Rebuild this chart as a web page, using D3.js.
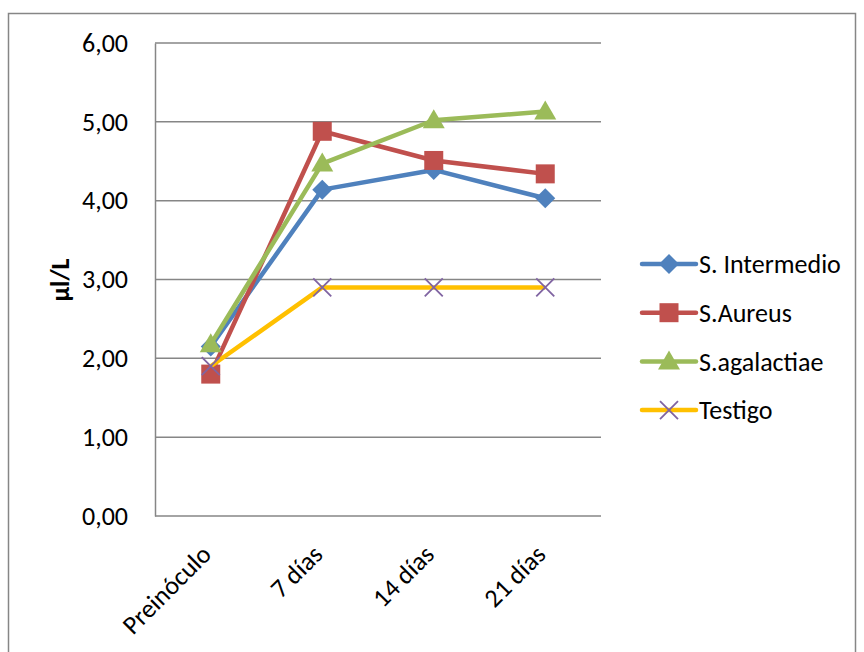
<!DOCTYPE html>
<html>
<head>
<meta charset="utf-8">
<script src="https://cdn.jsdelivr.net/npm/d3@7"></script>
<style>
  body { margin: 0; background: #fff; }
  text { font-family: Carlito, Calibri, "Open Sans", sans-serif; }
</style>
</head>
<body>
<div id="canvas"></div>
<script>
var categories = ['Preinóculo', '7 días', '14 días', '21 días'];
var seriesNames = ['S. Intermedio', 'S.Aureus', 'S.agalactiae', 'Testigo'];
var intermedio = [2.15, 4.14, 4.39, 4.03];
var aureus = [1.80, 4.88, 4.51, 4.34];
var agalactiae = [2.18, 4.47, 5.02, 5.13];
var testigo = [1.90, 2.90, 2.90, 2.90];
var yTicks = [0, 1, 2, 3, 4, 5, 6];

var lineColors = ['#4F81BD', '#C0504D', '#9BBB59', '#FFC000'];
var markers = ['diamond', 'square', 'triangle', 'x'];
var allValues = [intermedio, aureus, agalactiae, testigo];

var width = 864, height = 652;
var plotLeft = 155, plotRight = 601, plotTop = 43, plotBottom = 516;
var fontSize = 26;

var svg = d3.select('#canvas').append('svg')
  .attr('width', width)
  .attr('height', height);

svg.append('rect')
  .attr('x', 8.5).attr('y', 13.5)
  .attr('width', 847).attr('height', 646)
  .attr('fill', '#fff')
  .attr('stroke', '#868686')
  .attr('stroke-width', 1.5);

var x = d3.scaleBand().domain(categories).range([plotLeft, plotRight]);
var y = d3.scaleLinear().domain([0, 6]).range([plotBottom, plotTop]);

// gridlines
svg.append('g').selectAll('line').data(yTicks).enter().append('line')
  .attr('x1', plotLeft).attr('x2', plotRight)
  .attr('y1', function (d) { return y(d); })
  .attr('y2', function (d) { return y(d); })
  .attr('stroke', '#868686')
  .attr('stroke-width', 1.5);

// y axis
var yAxis = svg.append('g')
  .attr('transform', 'translate(' + plotLeft + ',0)')
  .call(d3.axisLeft(y).tickValues(yTicks).tickSize(0).tickPadding(27)
    .tickFormat(function (d) { return d3.format('.2f')(d).replace('.', ','); }));
yAxis.select('.domain').attr('stroke', '#868686').attr('stroke-width', 1.5);
yAxis.selectAll('text').attr('font-size', fontSize).attr('fill', '#000')
  .attr('font-family', 'Carlito, Calibri, sans-serif');

// x axis
var xAxis = svg.append('g')
  .attr('transform', 'translate(0,' + plotBottom + ')')
  .call(d3.axisBottom(x).tickSize(0).tickPadding(0));
xAxis.select('.domain').remove();
xAxis.selectAll('text')
  .attr('font-size', fontSize).attr('fill', '#000')
  .attr('font-family', 'Carlito, Calibri, sans-serif')
  .attr('text-anchor', 'end')
  .attr('dy', 0)
  .attr('transform', 'translate(2,40) rotate(-45)');

// y title
svg.append('text')
  .attr('transform', 'translate(69,280) rotate(-90)')
  .attr('text-anchor', 'middle')
  .attr('font-size', fontSize)
  .attr('font-weight', 'bold')
  .text('µl/L');

var line = d3.line()
  .x(function (d, i) { return x(categories[i]) + x.bandwidth() / 2; })
  .y(function (d) { return y(d); });

var drawMarker = function (g, type, cx, cy) {
  if (type === 'diamond') {
    g.append('path')
      .attr('d', 'M' + cx + ',' + (cy - 10) + 'L' + (cx + 10) + ',' + cy + 'L' + cx + ',' + (cy + 10) + 'L' + (cx - 10) + ',' + cy + 'Z')
      .attr('fill', lineColors[0]);
  } else if (type === 'square') {
    g.append('rect')
      .attr('x', cx - 9.5).attr('y', cy - 9.5)
      .attr('width', 19).attr('height', 19)
      .attr('fill', lineColors[1]);
  } else if (type === 'triangle') {
    g.append('path')
      .attr('d', 'M' + cx + ',' + (cy - 11) + 'L' + (cx + 11) + ',' + (cy + 8) + 'L' + (cx - 11) + ',' + (cy + 8) + 'Z')
      .attr('fill', lineColors[2]);
  } else {
    g.append('path')
      .attr('d', 'M' + (cx - 9) + ',' + (cy - 9) + 'L' + (cx + 9) + ',' + (cy + 9) + 'M' + (cx + 9) + ',' + (cy - 9) + 'L' + (cx - 9) + ',' + (cy + 9))
      .attr('stroke', '#8064A2')
      .attr('stroke-width', 1.8)
      .attr('fill', 'none');
  }
};

allValues.forEach(function (vals, s) {
  var g = svg.append('g');
  g.append('path')
    .datum(vals)
    .attr('d', line)
    .attr('fill', 'none')
    .attr('stroke', lineColors[s])
    .attr('stroke-width', 4.5)
    .attr('stroke-linejoin', 'round');
  vals.forEach(function (v, i) {
    drawMarker(g, markers[s], x(categories[i]) + x.bandwidth() / 2, y(v));
  });
});

// legend
var legend = svg.append('g');
seriesNames.forEach(function (name, s) {
  var ly = 264 + s * 48.7;
  var g = legend.append('g');
  g.append('line')
    .attr('x1', 642).attr('x2', 696)
    .attr('y1', ly).attr('y2', ly)
    .attr('stroke', lineColors[s])
    .attr('stroke-width', 4.5)
    .attr('stroke-linecap', 'round');
  drawMarker(g, markers[s], 669, ly);
  g.append('text')
    .attr('x', 699).attr('y', ly)
    .attr('dy', '0.35em')
    .attr('font-size', fontSize)
    .text(name);
});
</script>
</body>
</html>
